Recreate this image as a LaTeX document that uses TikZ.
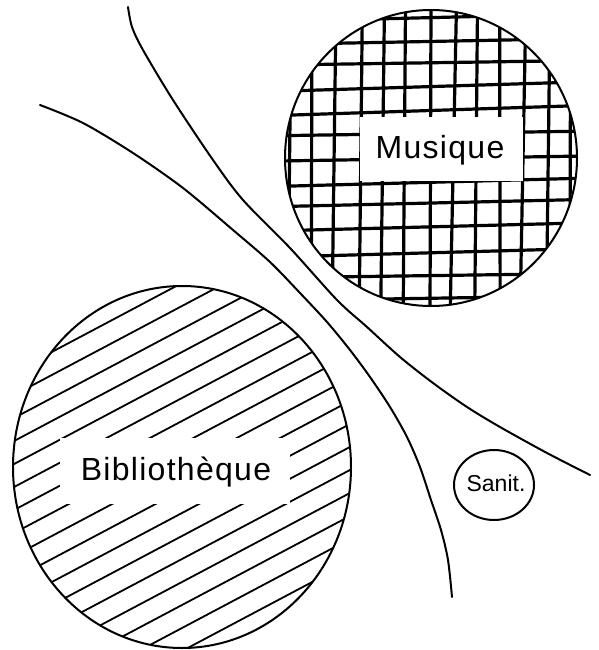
\documentclass[tikz,border=0pt]{standalone}
\usepackage{fontspec}
\setmainfont{Liberation Sans}
\newfontfamily\lblfont[LetterSpace=4]{Liberation Sans}
\begin{document}
\begin{tikzpicture}[x=1pt,y=-1pt,
  curve/.style={line width=2pt, line cap=round},
  outline/.style={line width=2pt},
  gridline/.style={line width=3.2pt},
  hatchline/.style={line width=1.8pt, line cap=round},
  lbl/.style={font=\lblfont\fontsize{32}{38}\selectfont, inner sep=0pt},
  small/.style={font=\fontsize{23}{28}\selectfont, inner sep=0pt}]
\useasboundingbox (0,0) rectangle (599,650);

% Musique cross-hatching
\begin{scope}
  \clip (431,158) ellipse [x radius=146pt, y radius=148pt];
  \foreach \i in {-6,...,6} {
    \draw[gridline] ({431+23.5*\i+2*sin(97*\i)}, 5) -- ({431+23.5*\i-3+2*cos(131*\i)}, 312);
  }
  \foreach \j in {-7,...,7} {
    \draw[gridline] (280, {158+23.5*\j+3+2*sin(113*\j)}) -- (585, {158+23.5*\j-4+2*cos(71*\j)});
  }
\end{scope}

% Bibliotheque hatching
\begin{scope}
  \clip (182,467) ellipse [x radius=169pt, y radius=181pt];
  \foreach \k in {-10,...,10} {
    \draw[hatchline] (0, {467+23*\k+0.53*182}) -- (360, {467+23*\k-0.53*178});
  }
\end{scope}

% cleared label areas
\fill[white] (360,117) rectangle (523,181);
\fill[white] (60,438) rectangle (290,504);

% outlines
\draw[outline] (431,158) ellipse [x radius=146pt, y radius=148pt];
\draw[outline] (182,467) ellipse [x radius=169pt, y radius=181pt];
\draw[outline] (494,485) ellipse [x radius=40pt, y radius=35pt];

% labels
\node[lbl, anchor=base] (musique) at (440,158) {Musique};
\node[lbl, anchor=base] (biblio) at (176,480) {Bibliothèque};
\node[small, anchor=base] (sanit) at (496,491) {Sanit.};

% curves
\draw[curve] plot[smooth] coordinates {(128,7) (132,27) (143,50) (173,100) (213,160) (243,200) (290,248) (337,300) (367,327) (400,357) (433,383) (467,407) (500,427) (547,453) (590,475)};
\draw[curve] plot[smooth] coordinates {(40,105) (83,123) (133,153) (183,188) (233,230) (270,262) (300,293) (327,322) (350,350) (370,377) (390,407) (407,437) (420,467) (431,500) (441,530) (448,560) (452,597)};
\end{tikzpicture}
\end{document}
